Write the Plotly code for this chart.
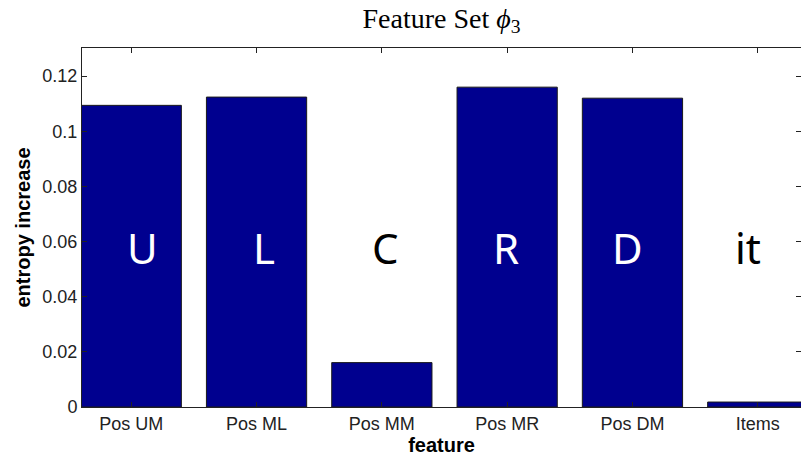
import plotly.graph_objects as go

# Entropy increase per feature of feature set phi_3
features = ["Pos UM", "Pos ML", "Pos MM", "Pos MR", "Pos DM", "Items"]
entropy_increase = [0.1094, 0.1124, 0.0161, 0.1160, 0.1120, 0.0018]

# Short letter tags written over each bar, with their colours and nudges
tags = ["U", "L", "C", "R", "D", "it"]
tag_colors = ["white", "white", "black", "white", "white", "black"]
tag_shift_px = [11, 7, 4, -1, -5, -10]

y_tick_vals = [0, 0.02, 0.04, 0.06, 0.08, 0.10, 0.12]
y_tick_text = ["0", "0.02", "0.04", "0.06", "0.08", "0.1", "0.12"]

positions = list(range(1, len(features) + 1))

fig = go.Figure()
fig.add_trace(go.Bar(
    x=positions,
    y=entropy_increase,
    width=0.8,
    marker=dict(color="#00008F", line=dict(color="#1a1a1a", width=1)),
    showlegend=False,
    hoverinfo="skip",
))

for pos, tag, col, dx in zip(positions, tags, tag_colors, tag_shift_px):
    fig.add_annotation(
        x=pos, y=0.0578, xref="x", yref="y",
        text=tag, showarrow=False, xshift=dx,
        font=dict(family="Noto Sans", size=42, color=col),
        xanchor="center", yanchor="middle",
    )

axis_font = dict(family="Liberation Sans, Arial, sans-serif", size=18, color="#222222")

fig.update_layout(
    width=801, height=457,
    margin=dict(l=82, r=0, t=48, b=50),
    paper_bgcolor="white", plot_bgcolor="white",
    title=dict(
        text="Feature Set <i>ϕ</i><sub>3</sub>",
        x=0.5, xref="paper", xanchor="center",
        y=1, yref="container", yanchor="top", pad=dict(t=8),
        font=dict(family="Liberation Serif, DejaVu Serif, serif", size=28, color="black"),
    ),
    bargap=0.2,
)

fig.update_xaxes(
    range=[0.607, 6.345],
    tickmode="array", tickvals=positions, ticktext=features,
    ticks="inside", ticklen=5, tickcolor="#222222",
    showline=True, linecolor="#222222", linewidth=1, mirror="ticks",
    showgrid=False, zeroline=False,
    tickfont=axis_font,
    title=dict(text="<b>feature</b>", font=dict(family="Liberation Sans, Arial, sans-serif", size=20, color="black"), standoff=4),
)
fig.update_yaxes(
    range=[0, 0.1302],
    tickmode="array", tickvals=y_tick_vals, ticktext=y_tick_text,
    ticks="inside", ticklen=5, tickcolor="#222222",
    showline=True, linecolor="#222222", linewidth=1, mirror="ticks",
    showgrid=False, zeroline=False,
    tickfont=axis_font,
    title=dict(text="<b>entropy increase</b>", font=dict(family="Liberation Sans, Arial, sans-serif", size=20, color="black"), standoff=6),
)

fig.write_html("out.html")
